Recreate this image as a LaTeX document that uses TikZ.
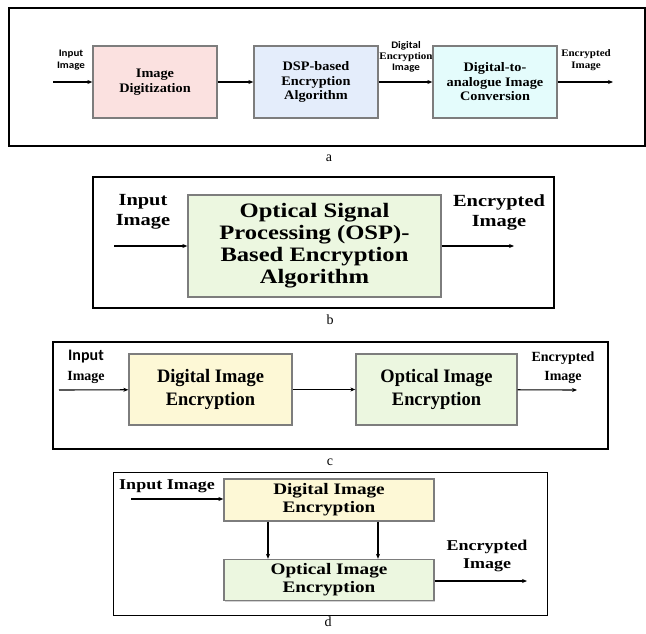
\documentclass[tikz,border=0pt]{standalone}
\usepackage{fontspec}
\setmainfont{Liberation Serif}
\newfontfamily\fontA[FakeStretch=1.1]{Liberation Serif}
\newfontfamily\fontCal[FakeStretch=1.1]{Carlito}
\newfontfamily\fontB[FakeStretch=1.2]{Liberation Serif}
\newfontfamily\fontC[FakeStretch=0.97]{Liberation Serif}
\newfontfamily\fontCalC{Carlito}
\usetikzlibrary{arrows.meta,shadows}
\definecolor{pinkbox}{RGB}{251,225,224}
\definecolor{bluebox}{RGB}{228,237,251}
\definecolor{cyanbox}{RGB}{228,252,252}
\definecolor{greenbox}{RGB}{236,247,224}
\definecolor{yellowbox}{RGB}{253,248,214}
\definecolor{boxline}{RGB}{125,125,125}
\begin{document}
\begin{tikzpicture}[x=1pt,y=-1pt,
  blk/.style={draw=boxline,line width=1.3pt,align=center,inner sep=2pt,
    drop shadow={shadow xshift=1.2pt,shadow yshift=-1.2pt,opacity=0.35}},
  frm/.style={draw=black,line width=1.2pt},
  arr/.style={-{Stealth[length=5pt,width=4pt]},line width=1.1pt},
  lbl/.style={align=center,inner sep=0pt},
  captxt/.style={inner sep=0pt,font=\fontsize{14}{16}\selectfont}]
\useasboundingbox (0,0) rectangle (646,634);
\fill[white] (0,0) rectangle (646,634);

% ---------- panel a ----------
\draw[frm,line width=1.7pt] (646,8) -- (9,8) -- (9,146) -- (646,146);
\draw[line width=1.7pt] (645.2,8) -- (645.2,146);
\node[blk,fill=pinkbox,minimum width=124pt,minimum height=72pt,
  font=\fontA\bfseries\fontsize{13}{14.5}\selectfont] (a1) at (155,82) {Image\\Digitization};
\node[blk,fill=bluebox,minimum width=124pt,minimum height=72pt,
  font=\fontA\bfseries\fontsize{13}{14.5}\selectfont] (a2) at (316,82) {DSP-based\\Encryption\\Algorithm};
\node[blk,fill=cyanbox,minimum width=124pt,minimum height=72pt,
  font=\fontA\bfseries\fontsize{13}{14.5}\selectfont] (a3) at (495,82) {Digital-to-\\analogue Image\\Conversion};
\coordinate (ain) at (53,82);
\coordinate (aout) at (613,82);
\node[lbl,font=\fontCal\bfseries\fontsize{10}{12}\selectfont] (ainl) at (71,60) {Input\\Image};
\node[lbl] (amid) at (406,57) {{\fontCal\bfseries\fontsize{10}{11.5}\selectfont Digital}\\[-1pt]{\fontA\bfseries\fontsize{10}{11.5}\selectfont Encryption}\\[-1pt]{\fontCal\bfseries\fontsize{10}{11.5}\selectfont Image}};
\node[lbl,font=\fontA\bfseries\fontsize{10}{12}\selectfont] (aoutl) at (586,60) {Encrypted\\Image};
\draw[arr] (ain) -- (a1);
\draw[arr] (a1) -- (a2);
\draw[arr] (a2) -- (a3);
\draw[arr] (a3) -- (aout);
\node[captxt] (capa) at (329,158) {a};

% ---------- panel b ----------
\draw[frm] (93,177) rectangle (554,308);
\node[blk,fill=greenbox,minimum width=253pt,minimum height=102pt,
  font=\fontB\bfseries\fontsize{20.5}{22}\selectfont] (b1) at (314.5,246) {Optical Signal\\Processing (OSP)-\\Based Encryption\\Algorithm};
\coordinate (bin) at (114,246);
\coordinate (bout) at (514,246);
\node[lbl,font=\fontB\bfseries\fontsize{17}{20}\selectfont] (binl) at (143,212) {Input\\Image};
\node[lbl,font=\fontB\bfseries\fontsize{17}{20}\selectfont] (boutl) at (499,212) {Encrypted\\Image};
\draw[arr] (bin) -- (b1);
\draw[arr] (b1) -- (bout);
\node[captxt] (capb) at (330,320) {b};

% ---------- panel c ----------
\draw[frm] (53,342) rectangle (608,449);
\node[blk,fill=yellowbox,minimum width=163pt,minimum height=71pt,
  font=\fontC\bfseries\fontsize{19}{23}\selectfont] (c1) at (210.5,389.5) {Digital Image\\Encryption};
\node[blk,fill=greenbox,minimum width=161pt,minimum height=71pt,
  font=\fontC\bfseries\fontsize{19}{23}\selectfont] (c2) at (436.5,389.5) {Optical Image\\Encryption};
\coordinate (cin) at (59,390);
\coordinate (cout) at (577,390);
\node[lbl,font=\fontCalC\bfseries\fontsize{16}{19}\selectfont] (cinl1) at (86,357) {Input};
\node[lbl,font=\bfseries\fontsize{14}{17}\selectfont] (cinl2) at (86,377) {Image};
\node[lbl,font=\bfseries\fontsize{14}{19}\selectfont] (coutl) at (563,368) {Encrypted\\Image};
\draw[arr] (cin) -- (c1);
\draw[arr] (c1) -- (c2);
\draw[arr] (c2) -- (cout);
\node[captxt] (capc) at (330,462) {c};

% ---------- panel d ----------
\draw[frm,line width=1pt] (113,472) rectangle (547,615);
\node[blk,fill=yellowbox,minimum width=210pt,minimum height=42pt,
  font=\fontB\bfseries\fontsize{16}{18}\selectfont] (d1) at (329,500) {Digital Image\\Encryption};
\node[blk,fill=greenbox,minimum width=210pt,minimum height=41pt,
  font=\fontB\bfseries\fontsize{16}{18}\selectfont] (d2) at (329,580) {Optical Image\\Encryption};
\coordinate (din) at (131,499);
\coordinate (dout) at (527,581);
\node[lbl,font=\fontB\bfseries\fontsize{15}{18}\selectfont] (dinl) at (167,486) {Input Image};
\node[lbl,font=\fontB\bfseries\fontsize{15}{18}\selectfont] (doutl) at (487,556) {Encrypted\\Image};
\draw[arr] (din) -- (din -| d1.west);
\draw[arr] ([xshift=-61pt]d1.south) -- ([xshift=-61pt]d2.north);
\draw[arr] ([xshift=49pt]d1.south) -- ([xshift=49pt]d2.north);
\draw[arr] (d2.east |- dout) -- (dout);
\node[captxt] (capd) at (328,622) {d};
\end{tikzpicture}
\end{document}
